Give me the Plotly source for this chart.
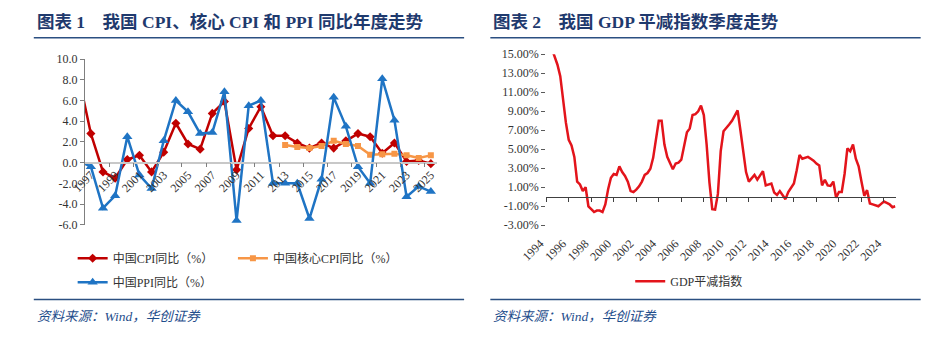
import plotly.graph_objects as go

W, H = 943, 339

# ---- Chart 1: annual CPI / core CPI / PPI, year on year (%) ----
years = list(range(1996, 2026))
cpi = [8.3, 2.8, -0.9, -1.5, 0.3, 0.7, -0.9, 1.0, 3.8, 1.8, 1.3, 4.75, 5.9, -0.7,
       3.3, 5.4, 2.6, 2.6, 1.9, 1.4, 1.9, 1.4, 2.1, 2.8, 2.5, 0.9, 1.9, 0.1, 0.2, -0.1]
ppi = [0.2, -0.4, -4.4, -3.2, 2.5, -1.2, -2.5, 2.1, 6.0, 4.9, 2.8, 2.9, 6.85, -5.6,
       5.5, 6.0, -2.0, -2.0, -2.0, -5.4, -1.6, 6.3, 3.5, -0.4, -2.0, 8.1, 4.1, -3.3, -2.3, -2.8]
core_years = list(range(2013, 2026))
core_cpi = [1.7, 1.5, 1.4, 1.6, 2.1, 1.8, 1.6, 0.75, 0.8, 0.85, 0.7, 0.45, 0.7]
year_ticks = list(range(1997, 2026, 2))
y1_ticks = list(range(-6, 11, 2))

# ---- Chart 2: quarterly GDP deflator (%) ----
gdp_start = 1994.5
gdp_deflator = [
    15.6, 14.7,
    13.9, 12.7, 10.0, 7.8,
    6.0, 5.4, 4.2, 1.6,
    1.3, 0.6, 1.0, -1.0,
    -1.3, -1.6, -1.45, -1.45,
    -1.6, -0.8, 0.8, 2.0,
    2.4, 2.3, 3.2, 2.6,
    2.2, 1.6, 0.6, 0.5,
    0.75, 1.1, 1.6, 2.3,
    2.5, 2.95, 4.1, 6.0,
    8.0, 8.0, 5.5, 4.2,
    3.5, 2.9, 3.5, 3.6,
    3.9, 5.2, 6.8, 7.2,
    8.6, 8.7, 9.0, 9.6,
    8.6, 5.5, 1.5, -1.3,
    -1.35, 0.3, 4.8, 6.9,
    7.2, 7.6, 8.0, 8.6,
    9.1, 7.0, 4.5, 2.6,
    1.6, 2.0, 2.3, 1.8,
    2.2, 2.7, 1.2, 1.3,
    1.4, 0.45, 0.2, 0.6,
    0.1, -0.25, 0.5, 0.95,
    1.4, 2.8, 4.4, 4.0,
    4.1, 4.2, 4.0, 3.8,
    3.5, 3.3, 1.2, 1.8,
    1.2, 1.15, 1.6, -0.1,
    0.5, 0.5, 2.4, 5.1,
    4.8, 5.5, 4.0, 3.2,
    1.6, 0.1, 0.7, -0.7,
    -0.8, -0.9, -1.0, -0.75,
    -0.5, -0.65, -0.8, -1.1,
    -1.0,
]
gdp_x = [gdp_start + 0.25 * i for i in range(len(gdp_deflator))]
gdp_year_ticks = list(range(1994, 2025, 2))
y2_ticks = list(range(-3, 16, 2))


def fx(px):
    return px / W


def fy(py):
    return 1 - py / H


SERIF = "Liberation Serif, Noto Sans CJK SC, serif"
TICK_FONT = dict(family=SERIF, size=12, color="#333333")
LEG_FONT = dict(family=SERIF, size=12, color="#333333")
NAVY = "#1f3a6e"

# plot-area boxes in pixels
L_X0, L_X1, L_Y0, L_Y1 = 59.5, 422.0, 54.3, 227.1
R_X0, R_X1, R_Y0, R_Y1 = 534.5, 894.4, 49.3, 227.7

y1_lo, y1_hi = y1_ticks[0], y1_ticks[-1]
y2_lo, y2_hi = y2_ticks[0], y2_ticks[-1]
zero1 = fy(L_Y1) + (0 - y1_lo) / (y1_hi - y1_lo) * (fy(L_Y0) - fy(L_Y1))
zero2 = fy(R_Y1) + (0 - y2_lo) / (y2_hi - y2_lo) * (fy(R_Y0) - fy(R_Y1))

fig = go.Figure()

fig.add_trace(go.Scatter(
    x=years, y=cpi, mode="lines+markers", name="中国CPI同比（%）",
    line=dict(color="#c00000", width=2.5),
    marker=dict(symbol="diamond", size=7, color="#c00000"),
    xaxis="x", yaxis="y", legend="legend"))
fig.add_trace(go.Scatter(
    x=core_years, y=core_cpi, mode="lines+markers", name="中国核心CPI同比（%）",
    line=dict(color="#f79646", width=2.5),
    marker=dict(symbol="square", size=6, color="#f79646"),
    xaxis="x", yaxis="y", legend="legend4"))
fig.add_trace(go.Scatter(
    x=years, y=ppi, mode="lines+markers", name="中国PPI同比（%）",
    line=dict(color="#1f74c4", width=2.5),
    marker=dict(symbol="triangle-up", size=9, color="#1f74c4"),
    xaxis="x", yaxis="y", legend="legend3"))
fig.add_trace(go.Scatter(
    x=gdp_x, y=gdp_deflator, mode="lines", name="GDP平减指数",
    line=dict(color="#e3141b", width=2.5),
    xaxis="x2", yaxis="y2", legend="legend2"))

legend_common = dict(orientation="h", xanchor="left", yanchor="middle",
                     font=LEG_FONT, bgcolor="rgba(0,0,0,0)", borderwidth=0)
LEG_PAD = 21  # distance from legend box edge to the start of its line symbol

fig.update_layout(
    width=W, height=H,
    margin=dict(l=0, r=0, t=0, b=0),
    paper_bgcolor="white", plot_bgcolor="white",
    xaxis=dict(
        domain=[fx(L_X0), fx(L_X1)], range=[1996.5, 2025.5],
        anchor="free", position=zero1,
        showline=True, linecolor="#c8c8c8", linewidth=1.5,
        tickmode="array", tickvals=year_ticks, ticktext=[str(v) for v in year_ticks],
        ticks="", tickangle=-45, tickfont=TICK_FONT,
        minor=dict(tick0=1996.5, dtick=2, ticks="outside", ticklen=4, tickcolor="#7f7f7f"),
        showgrid=False, zeroline=False),
    yaxis=dict(
        domain=[fy(L_Y1), fy(L_Y0)], range=[y1_lo, y1_hi], anchor="x",
        tickmode="array", tickvals=y1_ticks, ticktext=[f"{v:.1f}" for v in y1_ticks],
        showline=True, linecolor="#7f7f7f", linewidth=1,
        ticks="outside", ticklen=4, tickcolor="#7f7f7f", tickfont=TICK_FONT,
        showgrid=False, zeroline=False),
    xaxis2=dict(
        domain=[fx(R_X0), fx(R_X1)], range=[gdp_year_ticks[0], 2025.05],
        anchor="free", position=zero2,
        showline=True, linecolor="#404040", linewidth=1,
        tickmode="array", tickvals=gdp_year_ticks, ticktext=[str(v) for v in gdp_year_ticks],
        ticks="outside", ticklen=4, tickcolor="#404040",
        tickangle=-45, tickfont=TICK_FONT, ticklabelstandoff=30, ticklabelshift=-6,
        showgrid=False, zeroline=False),
    yaxis2=dict(
        domain=[fy(R_Y1), fy(R_Y0)], range=[y2_lo, y2_hi], anchor="x2",
        tickmode="array", tickvals=y2_ticks, ticktext=[f"{v:.2f}%" for v in y2_ticks],
        showline=False, ticks="outside", ticklen=4, tickcolor="#595959",
        tickfont=TICK_FONT, showgrid=False, zeroline=False),
    legend=dict(x=fx(68 - LEG_PAD), y=fy(262), **legend_common),
    legend4=dict(x=fx(233 - LEG_PAD), y=fy(262), **legend_common),
    legend3=dict(x=fx(68 - LEG_PAD), y=fy(287), **legend_common),
    legend2=dict(x=fx(642 - LEG_PAD), y=fy(286), **legend_common),
    showlegend=True,
)

# headings, rules and source notes for both panels
panels = [
    (7, 450, "图表 1　我国 CPI、核心 CPI 和 PPI 同比年度走势"),
    (477, 920, "图表 2　我国 GDP 平减指数季度走势"),
]
for x0, x1, title in panels:
    fig.add_annotation(x=fx(x0 + 1), y=fy(16), xref="paper", yref="paper",
                       xanchor="left", yanchor="middle", showarrow=False,
                       text=f"<b>{title}</b>",
                       font=dict(family=SERIF, size=17.5, color=NAVY))
    fig.add_annotation(x=fx(x0 + 1), y=fy(323), xref="paper", yref="paper",
                       xanchor="left", yanchor="middle", showarrow=False,
                       text="<i>资料来源：Wind，华创证券</i>",
                       font=dict(family=SERIF, size=13.5, color="#1f4e8c"))
    for yy in (32, 305):
        fig.add_shape(type="line", xref="paper", yref="paper",
                      x0=fx(x0), x1=fx(x1), y0=fy(yy), y1=fy(yy),
                      line=dict(color="#2b4f81", width=1.5))

fig.write_html("out.html")
